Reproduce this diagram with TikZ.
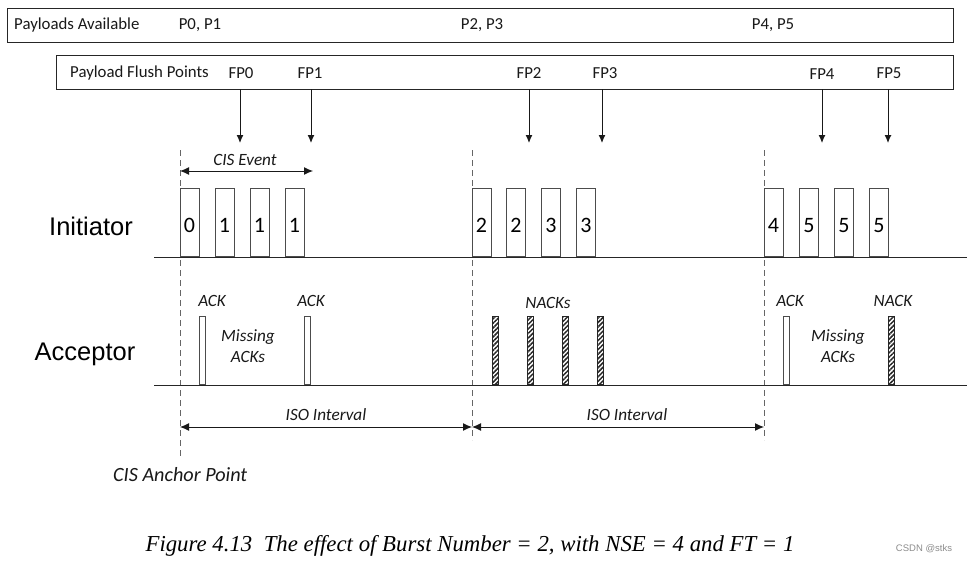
\documentclass[tikz,border=0pt]{standalone}
\usepackage{fontspec}
\setmainfont{Carlito}
\newfontfamily\arialf{Liberation Sans}
\newfontfamily\capf{Liberation Serif}
\usetikzlibrary{arrows.meta,patterns.meta}
\begin{document}
\begin{tikzpicture}[x=1pt,y=-1pt,
  bar/.style={draw=black!85, line width=1.3pt, inner sep=0, anchor=north west},
  lbl/.style={font=\fontsize{16.8}{20}\selectfont, inner sep=0, text=black!90},
  ilbl/.style={font=\fontsize{17.2}{20.5}\selectfont\itshape, inner sep=0, text=black!90, align=center},
  side/.style={font=\arialf\fontsize{25.5}{30}\selectfont, inner sep=0},
  pkt/.style={draw=black!70, line width=0.9pt, minimum width=19pt, minimum height=68pt, inner sep=0, anchor=south, font=\fontsize{22}{26}\selectfont},
  digit/.style={inner sep=0, anchor=base, font=\fontsize{22}{26}\selectfont},
  ackbar/.style={draw=black!70, fill=white, line width=0.8pt, minimum width=6pt, minimum height=68pt, inner sep=0, anchor=south},
  nackbar/.style={draw=black!85, line width=0.8pt, fill=white, pattern={Lines[angle=45,distance=3.2pt,line width=1.5pt]}, pattern color=black!85, minimum width=6pt, minimum height=68pt, inner sep=0, anchor=south},
  base/.style={draw=black!85, line width=1pt},
  dashline/.style={draw=black!60, line width=0.9pt, dash pattern=on 6pt off 4pt},
  downarr/.style={draw=black!90, line width=1pt, -{Latex[length=8pt,width=7pt]}},
  dimarr/.style={draw=black!90, line width=1pt, {Latex[length=9pt,width=8pt]}-{Latex[length=9pt,width=8pt]}}
]
\useasboundingbox[fill=white] (0,0) rectangle (967,563);

% top bars
\node[bar, minimum width=946pt, minimum height=34pt] (pa) at (7,7.5) {};
\node[bar, minimum width=897pt, minimum height=34pt] (fb) at (56,55) {};

\node[lbl, anchor=west] (paT) at (14,25) {Payloads Available};
\node[lbl] (p01) at (200,25) {P0, P1};
\node[lbl] (p23) at (482,25) {P2, P3};
\node[lbl] (p45) at (773,25) {P4, P5};

\node[lbl, anchor=west] (fbT) at (70,73) {Payload Flush Points};
\node[lbl] (fp0) at (241,73) {FP0};
\node[lbl] (fp1) at (310,73) {FP1};
\node[lbl] (fp2) at (529,73) {FP2};
\node[lbl] (fp3) at (605,73) {FP3};
\node[lbl] (fp4) at (822,74) {FP4};
\node[lbl] (fp5) at (889,73) {FP5};

\foreach \n/\x in {a0/240,a1/311,a2/529,a3/602,a4/822,a5/888}{
  \coordinate (\n top) at (\x,89);
  \coordinate (\n) at (\x,143);
  \draw[downarr] (\n top) -- (\n);
}

% dashed event lines
\coordinate (d1t) at (180,150); \coordinate (d1b) at (180,456);
\coordinate (d2t) at (472,150); \coordinate (d2b) at (472,440);
\coordinate (d3t) at (764,150); \coordinate (d3b) at (764,440);
\draw[dashline] (d1t) -- (d1b);
\draw[dashline] (d2t) -- (d2b);
\draw[dashline] (d3t) -- (d3b);

% CIS event
\coordinate (ce1) at (180,171); \coordinate (ce2) at (313,171);
\draw[dimarr] (ce1) -- (ce2);
\node[ilbl] (ceT) at (245,160) {CIS Event};

% baselines
\coordinate (ib1) at (154,257.5); \coordinate (ib2) at (967,257.5);
\coordinate (ab1) at (154,385.5); \coordinate (ab2) at (967,385.5);
\draw[base] (ib1) -- (ib2);
\draw[base] (ab1) -- (ab2);

\node[side] (init) at (91,226) {Initiator};
\node[side] (acc) at (85,354) {Acceptor};

% initiator packets
\foreach \n/\x/\t in {k0/189.5/0,k1/224.5/1,k2/259.5/1,k3/294.5/1,
                      k4/481.5/2,k5/516/2,k6/551/3,k7/586/3,
                      k8/773.5/4,k9/809/5,k10/844/5,k11/879/5}{
  \node[pkt] (\n) at (\x,257) {};
  \node[digit] (\n t) at (\x,232) {\t};
}

% acceptor responses
\node[ackbar] (ack0) at (202,385) {};
\node[ackbar] (ack1) at (307,385) {};
\node[nackbar] (n0) at (495,385) {};
\node[nackbar] (n1) at (530,385) {};
\node[nackbar] (n2) at (565,385) {};
\node[nackbar] (n3) at (600,385) {};
\node[ackbar] (ack2) at (786.5,385) {};
\node[nackbar] (n4) at (891.5,385) {};

\node[ilbl] (ack0T) at (212,301) {ACK};
\node[ilbl] (ack1T) at (311,301) {ACK};
\node[ilbl] (nT) at (548,303) {NACKs};
\node[ilbl] (ack2T) at (790,301) {ACK};
\node[ilbl] (n4T) at (893,301) {NACK};
\node[ilbl] (m1) at (248,346) {Missing\\[1pt]ACKs};
\node[ilbl] (m2) at (838,346) {Missing\\[1pt]ACKs};

% ISO intervals
\coordinate (i1) at (180,427); \coordinate (i2) at (472,427); \coordinate (i3) at (764,427);
\draw[dimarr] (i1) -- (i2);
\draw[dimarr] (i2) -- (i3);
\node[ilbl] (iso1) at (326,415) {ISO Interval};
\node[ilbl] (iso2) at (627,415) {ISO Interval};

\node[ilbl, font=\fontsize{20.2}{24}\selectfont\itshape, anchor=west] (anch) at (113,475) {CIS Anchor Point};

% caption
\node[inner sep=0, font=\capf\fontsize{22.8}{27}\selectfont\itshape] (cap) at (470,546) {Figure 4.13\ \ The effect of Burst Number = 2, with NSE = 4 and FT = 1};
\node[inner sep=0, font=\arialf\fontsize{9.5}{11}\selectfont, text=black!45] (csdn) at (924,549) {CSDN @stks};
\end{tikzpicture}
\end{document}
